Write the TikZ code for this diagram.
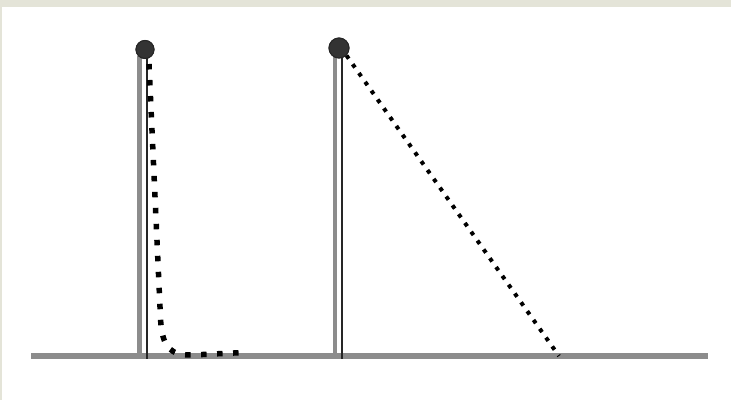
\documentclass[tikz,border=0pt]{standalone}
\usetikzlibrary{positioning}
\definecolor{pdBeige}{HTML}{E4E4D8}
\definecolor{pdGray}{HTML}{8C8C8C}
\definecolor{pdDark}{HTML}{262626}
\definecolor{pdBall}{HTML}{333333}
\tikzset{
  pd ground/.style={draw=pdGray, line width=6pt},
  pd pole/.style={draw=pdGray, line width=4.5pt},
  pd wire/.style={draw=pdDark, line width=2pt},
  pd ball/.style={circle, fill=pdBall, draw=pdDark, line width=1pt, inner sep=0pt},
  pd rope/.style={draw=black, line width=5.5pt, dash pattern=on 5.5pt off 10.5pt},
  pd cord/.style={draw=black, line width=4pt, dash pattern=on 4pt off 6.8pt},
}
\begin{document}
\begin{tikzpicture}[x=1pt,y=-1pt]
  \useasboundingbox (0,0) rectangle (731,400);
  \fill[pdBeige] (0,0) rectangle (731,400);
  \fill[white] (2,7) rectangle (731,400);
  % ground
  \coordinate (groundW) at (31,356);
  \coordinate (groundE) at (708,356);
  \draw[pd ground] (groundW) -- (groundE);
  % poles
  \coordinate (poleLtop) at (139.5,56);
  \coordinate (poleLbot) at (139.5,359);
  \coordinate (wireLtop) at (146.5,56);
  \coordinate (wireLbot) at (146.5,359);
  \coordinate (poleRtop) at (335,56);
  \coordinate (poleRbot) at (335,359);
  \coordinate (wireRtop) at (342,56);
  \coordinate (wireRbot) at (342,359);
  \draw[pd pole] (poleLtop) -- (poleLbot);
  \draw[pd wire] (wireLtop) -- (wireLbot);
  \draw[pd pole] (poleRtop) -- (poleRbot);
  \draw[pd wire] (wireRtop) -- (wireRbot);
  % balls on top
  \node[pd ball, minimum size=18pt] (ballL) at (145,49.5) {};
  \node[pd ball, minimum size=20pt] (ballR) at (339,48) {};
  % ropes
  \coordinate (ropeEnd) at (244,352.5);
  \coordinate (cordEnd) at (559,356);
  \draw[pd rope] (ballL.south) ++(4,5) -- (160.5,318)
    .. controls (162,350) and (172,355) .. (192,355) -- (ropeEnd);
  \draw[pd cord] (ballR.south east) -- (cordEnd);
  \node[pd ball, minimum size=18pt] at (ballL) {};
  \node[pd ball, minimum size=20pt] at (ballR) {};
\end{tikzpicture}
\end{document}
